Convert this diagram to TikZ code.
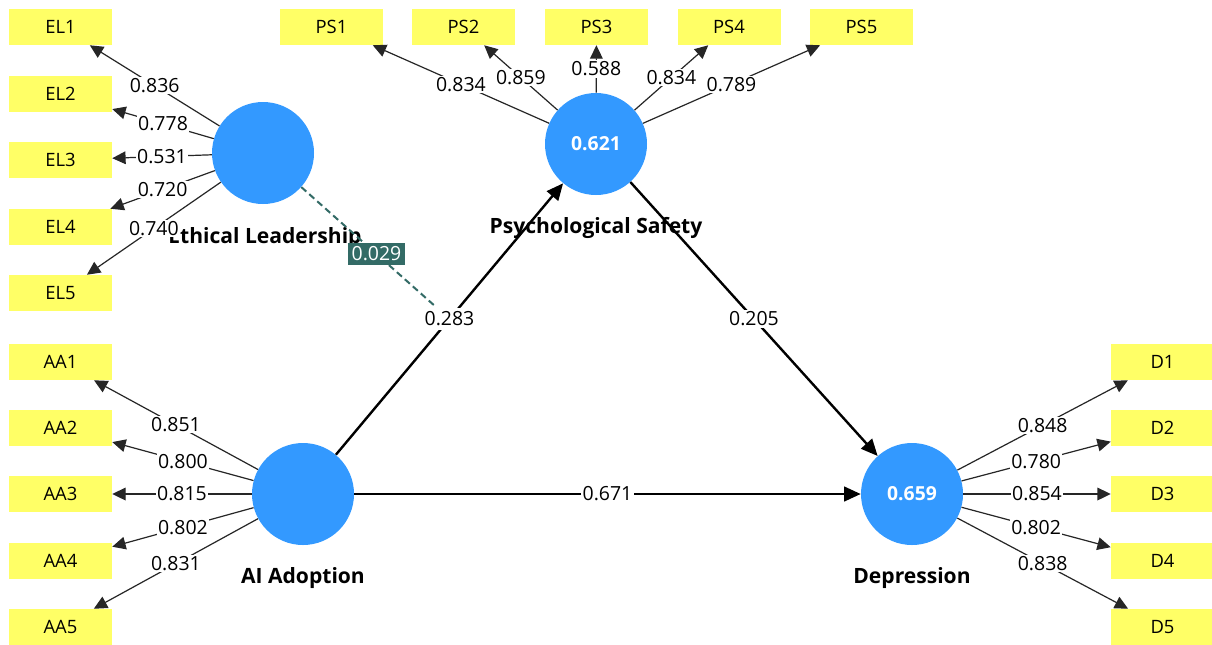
\documentclass[tikz,border=0pt]{standalone}
\usepackage{fontspec}
\setmainfont{Open Sans}
\usetikzlibrary{arrows.meta}
\definecolor{plsblue}{HTML}{3399FF}
\definecolor{indyel}{HTML}{FFFF66}
\definecolor{modteal}{HTML}{336B66}
\begin{document}
\begin{tikzpicture}[x=0.75pt,y=-0.75pt,
  ind/.style={fill=indyel, minimum width=77.25pt, minimum height=27pt, inner sep=0pt, font=\fontsize{13.8}{16}\selectfont},
  lv/.style={circle, fill=plsblue, minimum size=76.5pt, inner sep=0pt, text=white, font=\bfseries\fontsize{14.5}{17}\selectfont},
  lvname/.style={font=\bfseries\fontsize{15.8}{18}\selectfont},
  load/.style={draw=black!85, line width=0.9pt, -{Triangle[length=10pt,width=9.5pt]}},
  struct/.style={draw=black, line width=1.8pt, -{Triangle[length=12.5pt,width=11pt]}},
  lbl/.style={fill=white, inner sep=1pt, font=\fontsize{14.6}{17}\selectfont},
  modlbl/.style={fill=modteal, text=white, inner sep=2.5pt, font=\fontsize{14.6}{17}\selectfont},
  moddash/.style={draw=modteal, line width=1.5pt, dash pattern=on 5pt off 3pt},
]
\useasboundingbox (0,0) rectangle (1212,644);
\fill[white] (0,0) rectangle (1212,644);

% latent variables
\node[lv] (el) at (263,153) {};
\node[lv] (ps) at (596,144) {0.621};
\node[lv] (aa) at (303,494) {};
\node[lv] (dep) at (912,494) {0.659};

% names
\node[lvname] (elt) at (265,238) {Ethical Leadership};
\node[lvname] (pst) at (596,228) {Psychological Safety};
\node[lvname] (aat) at (303,578) {AI Adoption};
\node[lvname] (dept) at (912,578) {Depression};

% indicators
\node[ind] (el1) at (60.5,27) {EL1};
\node[ind] (el2) at (60.5,94) {EL2};
\node[ind] (el3) at (60.5,160) {EL3};
\node[ind] (el4) at (60.5,227) {EL4};
\node[ind] (el5) at (60.5,293) {EL5};

\node[ind] (ps1) at (331.5,27) {PS1};
\node[ind] (ps2) at (463.5,27) {PS2};
\node[ind] (ps3) at (596.5,27) {PS3};
\node[ind] (ps4) at (729,27) {PS4};
\node[ind] (ps5) at (861.5,27) {PS5};

\node[ind] (aa1) at (60.5,362) {AA1};
\node[ind] (aa2) at (60.5,428) {AA2};
\node[ind] (aa3) at (60.5,494) {AA3};
\node[ind] (aa4) at (60.5,561) {AA4};
\node[ind] (aa5) at (60.5,627) {AA5};

\node[ind] (d1) at (1162.5,362) {D1};
\node[ind] (d2) at (1162.5,428) {D2};
\node[ind] (d3) at (1162.5,494) {D3};
\node[ind] (d4) at (1162.5,561) {D4};
\node[ind] (d5) at (1162.5,627) {D5};

% loadings
\draw[load] (el) -- node[lbl]{0.836} (el1);
\draw[load] (el) -- node[lbl]{0.778} (el2);
\draw[load] (el) -- node[lbl]{0.531} (el3);
\draw[load] (el) -- node[lbl]{0.720} (el4);
\draw[load] (el) -- node[lbl]{0.740} (el5);

\draw[load] (ps) -- node[lbl]{0.834} (ps1);
\draw[load] (ps) -- node[lbl]{0.859} (ps2);
\draw[load] (ps) -- node[lbl]{0.588} (ps3);
\draw[load] (ps) -- node[lbl]{0.834} (ps4);
\draw[load] (ps) -- node[lbl]{0.789} (ps5);

\draw[load] (aa) -- node[lbl]{0.851} (aa1);
\draw[load] (aa) -- node[lbl]{0.800} (aa2);
\draw[load] (aa) -- node[lbl]{0.815} (aa3);
\draw[load] (aa) -- node[lbl]{0.802} (aa4);
\draw[load] (aa) -- node[lbl]{0.831} (aa5);

\draw[load] (dep) -- node[lbl]{0.848} (d1);
\draw[load] (dep) -- node[lbl]{0.780} (d2);
\draw[load] (dep) -- node[lbl]{0.854} (d3);
\draw[load] (dep) -- node[lbl]{0.802} (d4);
\draw[load] (dep) -- node[lbl]{0.838} (d5);

% structural paths
\draw[struct] (aa) -- node[lbl, inner sep=3pt] (l283) {0.283} (ps);
\draw[struct] (aa) -- node[lbl] (l671) {0.671} (dep);
\draw[struct] (ps) -- node[lbl] (l205) {0.205} (dep);

% moderating effect
\draw[moddash] (el) -- node[modlbl, pos=0.56] (m029) {0.029} (l283);
\end{tikzpicture}
\end{document}
